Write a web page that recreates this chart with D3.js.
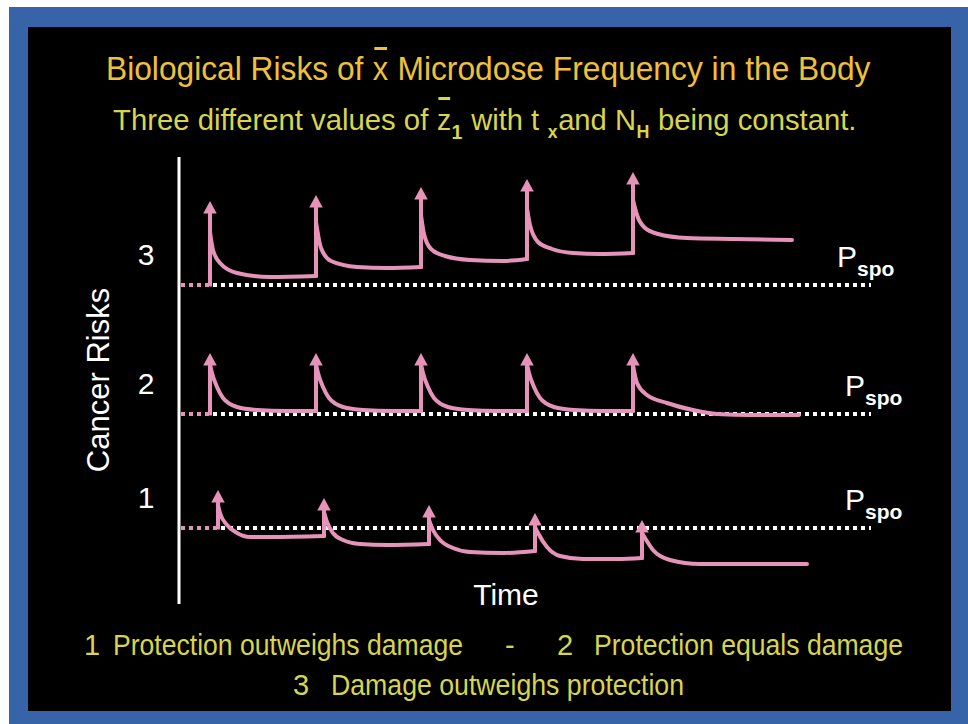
<!DOCTYPE html>
<html><head><meta charset="utf-8">
<script src="https://cdn.jsdelivr.net/npm/d3@7/dist/d3.min.js"></script>
<style>html,body{margin:0;padding:0;background:#fff;}svg{display:block;}</style>
</head><body>
<svg id="chart" width="968" height="724"></svg>
<script>
// ---------------- DATA ----------------
const rowLabels = ["3", "2", "1"];
const pspoLevels = [31.9, 19.0, 7.6];            // spontaneous risk level (P_spo) per scenario
const pulseTimes = [
  [3.1, 13.7, 24.2, 34.8, 45.4],
  [3.1, 13.7, 24.2, 34.8, 45.4],
  [3.9, 14.5, 25.0, 35.6, 46.3]
];
const tipLevels = [
  [40.3, 40.9, 41.7, 42.5, 43.2],
  [25.1, 25.1, 25.1, 25.1, 25.1],
  [11.4, 10.6, 9.9, 9.1, 8.4]
];
const decayRow3 = [
  [[3.1,37.2],[3.4,35.4],[4.1,34.1],[5.8,33.1],[9.1,32.7],[13.7,32.8]],
  [[13.7,38.2],[14.2,35.6],[15.2,34.3],[17.8,33.7],[20.8,33.6],[24.2,33.7]],
  [[24.2,38.9],[24.5,37.0],[25.2,35.5],[26.6,34.8],[29.1,34.4],[32.4,34.3],[34.8,34.5]],
  [[34.8,39.6],[35.1,37.9],[35.9,36.2],[37.3,35.5],[39.4,35.1],[42.1,35.0],[45.4,35.1]],
  [[45.4,40.4],[45.8,38.9],[46.5,37.7],[47.9,37.0],[50.8,36.6],[55.4,36.5],[61.3,36.4]]
];
const decayRow2 = [
  [[3.1,24.0],[3.3,23.1],[3.8,21.7],[4.4,20.6],[5.8,19.7],[7.8,19.4],[10.8,19.3],[13.7,19.3]],
  [[13.7,24.0],[13.9,23.1],[14.4,21.7],[15.0,20.6],[16.4,19.7],[18.4,19.4],[21.4,19.3],[24.2,19.3]],
  [[24.2,24.0],[24.4,23.1],[24.9,21.7],[25.5,20.6],[26.9,19.7],[28.9,19.4],[31.9,19.3],[34.8,19.3]],
  [[34.8,24.0],[35.0,23.1],[35.5,21.7],[36.1,20.6],[37.5,19.7],[39.5,19.4],[42.5,19.3],[45.4,19.3]],
  [[45.4,23.9],[45.8,22.1],[46.8,20.9],[48.8,20.1],[51.4,19.4],[53.8,19.0],[57.1,18.9],[62.0,18.9]]
];
const decayRow1 = [
  [[3.9,9.9],[4.1,9.1],[4.8,7.9],[5.8,7.1],[7.1,6.7],[9.1,6.7],[14.5,6.8]],
  [[14.5,9.2],[14.8,8.2],[15.4,7.1],[16.4,6.4],[18.1,6.0],[20.8,5.9],[25.0,6.0]],
  [[25.0,8.4],[25.4,7.4],[26.1,6.4],[27.4,5.6],[29.1,5.2],[32.4,5.1],[35.6,5.3]],
  [[35.6,7.7],[35.9,7.1],[36.8,5.7],[38.1,4.8],[40.4,4.5],[43.8,4.5],[46.3,4.6]],
  [[46.3,7.1],[46.6,6.6],[47.4,5.4],[49.1,4.4],[52.1,4.0],[57.1,4.0],[62.8,4.0]]
];
const decays = [decayRow3, decayRow2, decayRow1];
const titleParts = ["Biological Risks of ", "x", " Microdose Frequency in the Body"];
const subtitleParts = ["Three different values of ", "z", "1", " with t ", "x", "and N", "H", " being constant."];
const legendLine1 = ["1", "Protection outweighs damage", "-", "2", "Protection equals damage"];
const legendLine2 = ["3", "Damage outweighs protection"];
const axisTitleY = "Cancer Risks";
const axisTitleX = "Time";

// ---------------- LAYOUT ----------------
const svg = d3.select("#chart");
const W = 968, H = 724;
const PINK = "#e693b9", GOLD = "#efc03a", YEL = "#d7d64b";
const FONT = "'Liberation Sans', Arial, Helvetica, sans-serif";

svg.append("rect").attr("x", 0).attr("y", 0).attr("width", W).attr("height", H).attr("fill", "#fff");
svg.append("rect").attr("x", 9).attr("y", 7).attr("width", W - 9).attr("height", H - 7).attr("fill", "#3764a9");
svg.append("rect").attr("x", 28).attr("y", 27).attr("width", 923).attr("height", 684).attr("fill", "#000");

const x = d3.scaleLinear().domain([0, 69.2]).range([179, 871]);
const y = d3.scaleLinear().domain([0, 44.7]).range([604, 157]);

// y axis line
svg.append("line").attr("x1", x(0)).attr("x2", x(0))
  .attr("y1", y.range()[0]).attr("y2", y.range()[1])
  .attr("stroke", "#fff").attr("stroke-width", 3);

// dotted P_spo lines
svg.selectAll("line.pspo").data(pspoLevels).join("line").attr("class", "pspo")
  .attr("x1", x(0) + 2).attr("x2", x(x.domain()[1]))
  .attr("y1", d => y(d)).attr("y2", d => y(d))
  .attr("stroke", "#fff").attr("stroke-width", 4).attr("stroke-dasharray", "4,4");

// row labels
svg.selectAll("text.rowlab").data(rowLabels).join("text").attr("class", "rowlab")
  .attr("x", 146).attr("y", (d, i) => y(pspoLevels[i]) - 20)
  .attr("text-anchor", "middle").attr("fill", "#fff")
  .style("font-family", FONT).style("font-size", "30px").text(d => d);

// P_spo labels
const pX = [837, 845, 845];
pspoLevels.forEach((lv, i) => {
  const t = svg.append("text").attr("x", pX[i]).attr("y", y(lv) - 18)
    .attr("fill", "#fff").style("font-family", FONT).style("font-size", "30px");
  t.append("tspan").text("P");
  t.append("tspan").attr("dy", 9).style("font-size", "21px").style("font-weight", "bold").text("spo");
});

// curves
const line = d3.line().x(d => x(d[0])).y(d => y(d[1])).curve(d3.curveMonotoneX);
const HEAD_H = 12.5, HEAD_W = 13.5;
decays.forEach((rowDecay, r) => {
  const g = svg.append("g");
  const base0 = pspoLevels[r];
  g.append("line").attr("x1", x(0) + 2).attr("x2", x(pulseTimes[r][0]))
    .attr("y1", y(base0)).attr("y2", y(base0))
    .attr("stroke", PINK).attr("stroke-width", 4).attr("stroke-dasharray", "4,4");
  pulseTimes[r].forEach((tp, i) => {
    const base = i === 0 ? base0 : rowDecay[i - 1][rowDecay[i - 1].length - 1][1];
    const tip = tipLevels[r][i];
    g.append("path").attr("d", line(rowDecay[i])).attr("fill", "none")
      .attr("stroke", PINK).attr("stroke-width", 4).attr("stroke-linecap", "round");
    g.append("line").attr("x1", x(tp)).attr("x2", x(tp))
      .attr("y1", y(base) + 1.5).attr("y2", y(tip) + HEAD_H - 1)
      .attr("stroke", PINK).attr("stroke-width", 4);
    const xt = x(tp), yt = y(tip);
    g.append("path")
      .attr("d", `M${xt},${yt}L${xt + HEAD_W / 2},${yt + HEAD_H}L${xt - HEAD_W / 2},${yt + HEAD_H}Z`)
      .attr("fill", PINK);
  });
});

// axis titles
svg.append("text").attr("x", 506).attr("y", 605).attr("text-anchor", "middle")
  .attr("fill", "#fff").style("font-family", FONT).style("font-size", "30px").text(axisTitleX);
svg.append("text").attr("transform", "translate(109,380) rotate(-90)").attr("text-anchor", "middle")
  .attr("fill", "#fff").style("font-family", FONT).style("font-size", "31px").text(axisTitleY);

// rich text: lay out once as a compressed run, then split into separate text pieces
function richText(parts, styles, x0, yb, totalW, size, color) {
  const tmp = svg.append("text").attr("x", x0).attr("y", yb)
    .style("font-family", FONT).style("font-size", size + "px")
    .attr("textLength", totalW).attr("lengthAdjust", "spacingAndGlyphs");
  parts.forEach((p, i) => {
    const s = styles[i] || {};
    const ts = tmp.append("tspan").text(p);
    if (s.size) ts.style("font-size", s.size + "px");
    if (s.bold) ts.style("font-weight", "bold");
  });
  const node = tmp.node();
  const pieces = [];
  let idx = 0;
  parts.forEach((p, i) => {
    const lead = p.length - p.trimStart().length;
    const trimmed = p.trim();
    const a = idx + lead, b = a + trimmed.length - 1;
    const sx = node.getStartPositionOfChar(a).x;
    const ex = node.getEndPositionOfChar(b).x;
    pieces.push({ text: trimmed, sx, ex, style: styles[i] || {} });
    idx += p.length;
  });
  tmp.remove();
  pieces.forEach(pc => {
    const t = svg.append("text").attr("x", pc.sx).attr("y", yb + (pc.style.dy || 0))
      .attr("fill", color).style("font-family", FONT)
      .style("font-size", (pc.style.size || size) + "px")
      .attr("textLength", Math.max(1, pc.ex - pc.sx - 0.5)).attr("lengthAdjust", "spacingAndGlyphs")
      .text(pc.text);
    if (pc.style.bold) t.style("font-weight", "bold");
    if (pc.style.bar) {
      const w = pc.ex - pc.sx;
      svg.append("rect").attr("x", pc.sx + w * 0.1).attr("y", yb + pc.style.bar)
        .attr("width", w * 0.8).attr("height", 3).attr("fill", color);
    }
  });
}

richText(titleParts, [{}, { bar: -33 }, {}], 106, 80, 765, 33, GOLD);
richText(subtitleParts,
  [{}, { bar: -33 }, { size: 21, bold: true, dy: 9 }, {}, { size: 19, bold: true, dy: 8 }, {}, { size: 19, bold: true, dy: 8 }, {}],
  113, 130, 744, 30, YEL);

function legendPiece(txt, x0, yb, w) {
  const t = svg.append("text").attr("x", x0).attr("y", yb).attr("fill", YEL)
    .style("font-family", FONT).style("font-size", "29px").text(txt);
  if (w) t.attr("textLength", w).attr("lengthAdjust", "spacingAndGlyphs");
}
legendPiece(legendLine1[0], 84, 655);
legendPiece(legendLine1[1], 113, 655, 350);
legendPiece(legendLine1[2], 505, 655);
legendPiece(legendLine1[3], 557, 655);
legendPiece(legendLine1[4], 594, 655, 309);
legendPiece(legendLine2[0], 293, 695);
legendPiece(legendLine2[1], 331, 695, 353);
</script>
</body></html>
